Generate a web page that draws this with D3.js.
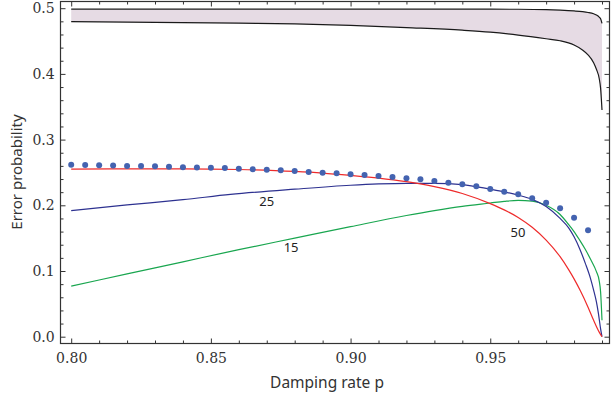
<!DOCTYPE html>
<html>
<head>
<meta charset="utf-8">
<script src="https://cdn.jsdelivr.net/npm/d3@7"></script>
<style>
  body { margin: 0; background: #fff; }
  svg { display: block; }
</style>
</head>
<body>
<svg id="chart" width="611" height="407"></svg>
<script>
// datos
const bandP     = [0.80, 0.83, 0.86, 0.88, 0.90, 0.92, 0.94, 0.95, 0.96, 0.97, 0.975, 0.98, 0.983, 0.985, 0.987, 0.988, 0.989, 0.9895, 0.99];
const bandUpper = [0.4985, 0.4985, 0.4985, 0.4985, 0.4985, 0.4985, 0.4985, 0.4985, 0.4984, 0.4978, 0.497, 0.4958, 0.4947, 0.4935, 0.4915, 0.4896, 0.4865, 0.484, 0.477];
const bandLower = [0.4795, 0.4785, 0.4772, 0.476, 0.474, 0.4705, 0.4665, 0.4635, 0.459, 0.4535, 0.4505, 0.444, 0.4365, 0.429, 0.417, 0.407, 0.393, 0.378, 0.345];

const redP   = [0.80, 0.82, 0.84, 0.86, 0.88, 0.89, 0.90, 0.91, 0.92, 0.93, 0.94, 0.95, 0.955, 0.96, 0.965, 0.97, 0.975, 0.978, 0.98, 0.9823, 0.985, 0.987, 0.989, 0.99];
const redVal = [0.255, 0.2555, 0.2555, 0.2545, 0.2515, 0.249, 0.2455, 0.2415, 0.236, 0.2285, 0.218, 0.2025, 0.193, 0.1815, 0.1665, 0.147, 0.1218, 0.1025, 0.088, 0.0695, 0.045, 0.025, 0.007, 0.0];

const blueP   = [0.80, 0.82, 0.84, 0.857, 0.88, 0.90, 0.91, 0.92, 0.93, 0.94, 0.95, 0.955, 0.96, 0.965, 0.97, 0.975, 0.978, 0.98, 0.982, 0.984, 0.986, 0.987, 0.988, 0.9887, 0.9895, 0.99];
const blueVal = [0.192, 0.2005, 0.2085, 0.2165, 0.2245, 0.2305, 0.2325, 0.2335, 0.2335, 0.2315, 0.2245, 0.2205, 0.2155, 0.209, 0.198, 0.18, 0.166, 0.152, 0.134, 0.112, 0.087, 0.071, 0.053, 0.036, 0.012, 0.0];

const greenP   = [0.80, 0.82, 0.84, 0.86, 0.88, 0.90, 0.92, 0.93, 0.94, 0.95, 0.955, 0.96, 0.965, 0.97, 0.975, 0.978, 0.98, 0.982, 0.984, 0.986, 0.988, 0.989, 0.9895, 0.99];
const greenVal = [0.077, 0.0955, 0.114, 0.1325, 0.150, 0.1675, 0.1845, 0.192, 0.1985, 0.2035, 0.206, 0.2075, 0.2065, 0.2, 0.186, 0.171, 0.16, 0.147, 0.133, 0.117, 0.099, 0.085, 0.068, 0.025];

const dotP   = d3.range(38).map(i => +(0.80 + i * 0.005).toFixed(3));
const dotVal = [0.2618, 0.2613, 0.261, 0.2605, 0.260, 0.2597, 0.2593, 0.2588, 0.258, 0.2577,
                0.2573, 0.2567, 0.2557, 0.2547, 0.2542, 0.2532, 0.2522, 0.2507, 0.2496, 0.2486,
                0.2471, 0.246, 0.2445, 0.243, 0.241, 0.2396, 0.237, 0.2344, 0.232, 0.229,
                0.2248, 0.2207, 0.2167, 0.2107, 0.204, 0.1954, 0.181, 0.162];

const curveLabels = ["25", "50", "15"];
const labelP      = [0.870, 0.9599, 0.8787];
const labelVal    = [0.2035, 0.1576, 0.1347];

const xMajor = [0.80, 0.85, 0.90, 0.95];
const yMajor = [0.0, 0.1, 0.2, 0.3, 0.4, 0.5];

/////////////////////////////////////////////////// ESCALAS

const svg = d3.select("#chart");
const x = d3.scaleLinear().domain([0.80, 0.99]).range([71.2, 602]);
const y = d3.scaleLinear().domain([0, 0.5]).range([336.7, 8.2]);

const frameL = 60.5, frameR = 609.5, frameT = 1.5, frameB = 343.5;

/////////////////////////////////////////////////// CURVAS

const area = d3.area()
  .x((d, i) => x(bandP[i]))
  .y0((d, i) => y(bandLower[i]))
  .y1((d, i) => y(bandUpper[i]))
  .curve(d3.curveMonotoneX);

svg.append("path")
  .attr("d", area(bandP))
  .attr("fill", "#e6dbe4");

function drawLine(ps, vals, color, w) {
  const line = d3.line()
    .x(i => x(ps[i]))
    .y(i => y(vals[i]))
    .curve(d3.curveMonotoneX);
  svg.append("path")
    .attr("d", line(d3.range(ps.length)))
    .attr("fill", "none")
    .attr("stroke", color)
    .attr("stroke-width", w);
}

drawLine(bandP, bandUpper, "#1a1a1a", 1.2);
drawLine(bandP, bandLower, "#1a1a1a", 1.2);
drawLine(greenP, greenVal, "#19a64f", 1.2);
drawLine(blueP, blueVal, "#2d3190", 1.2);
drawLine(redP, redVal, "#ee2b2b", 1.2);

svg.selectAll("circle.dot")
  .data(dotP)
  .enter().append("circle")
  .attr("class", "dot")
  .attr("cx", d => x(d))
  .attr("cy", (d, i) => y(dotVal[i]))
  .attr("r", 3)
  .attr("fill", "#4463b0");

svg.selectAll("text.clabel")
  .data(curveLabels)
  .enter().append("text")
  .attr("class", "clabel")
  .attr("x", (d, i) => x(labelP[i]))
  .attr("y", (d, i) => y(labelVal[i]))
  .attr("text-anchor", "middle")
  .attr("dominant-baseline", "middle")
  .attr("font-family", "'Noto Sans', sans-serif")
  .attr("font-size", 13)
  .attr("fill", "#222")
  .text(d => d);

/////////////////////////////////////////////////// MARCO Y EJES

svg.append("rect")
  .attr("x", frameL).attr("y", frameT)
  .attr("width", frameR - frameL).attr("height", frameB - frameT)
  .attr("fill", "none")
  .attr("stroke", "#333")
  .attr("stroke-width", 1.2);

const xMinor = d3.range(20).map(i => +(0.80 + i * 0.01).toFixed(2)).filter(v => !xMajor.includes(v));
const yMinor = d3.range(26).map(i => +(i * 0.02).toFixed(2)).filter(v => !yMajor.some(m => Math.abs(m - v) < 1e-9));

function ticks(axisFn, scale, pos, vals, size, labels) {
  const g = svg.append("g")
    .attr("transform", pos)
    .call(axisFn(scale).tickValues(vals).tickSize(-size).tickSizeOuter(0)
      .tickFormat(labels ? labels : ""));
  g.select(".domain").remove();
  g.selectAll("line").attr("stroke", "#333").attr("stroke-width", 1);
  g.selectAll("text")
    .attr("font-family", "'DejaVu Serif', serif")
    .attr("font-size", 14)
    .attr("fill", "#333");
  return g;
}

ticks(d3.axisBottom, x, `translate(0,${frameB})`, xMajor, 5, d3.format(".2f"))
  .selectAll("text").attr("dy", "1.15em");
ticks(d3.axisBottom, x, `translate(0,${frameB})`, xMinor, 3, null);
ticks(d3.axisTop, x, `translate(0,${frameT})`, xMajor, 5, null);
ticks(d3.axisTop, x, `translate(0,${frameT})`, xMinor, 3, null);

ticks(d3.axisLeft, y, `translate(${frameL},0)`, yMajor, 5, d3.format(".1f"))
  .selectAll("text").attr("dx", "-0.2em");
ticks(d3.axisLeft, y, `translate(${frameL},0)`, yMinor, 3, null);
ticks(d3.axisRight, y, `translate(${frameR},0)`, yMajor, 5, null);
ticks(d3.axisRight, y, `translate(${frameR},0)`, yMinor, 3, null);

svg.append("text")
  .attr("x", 327).attr("y", 388)
  .attr("text-anchor", "middle")
  .attr("font-family", "'Noto Sans', sans-serif")
  .attr("font-size", 15.5)
  .attr("fill", "#333")
  .text("Damping rate p");

svg.append("text")
  .attr("transform", "translate(22,172) rotate(-90)")
  .attr("text-anchor", "middle")
  .attr("font-family", "'Noto Sans', sans-serif")
  .attr("font-size", 15)
  .attr("fill", "#333")
  .text("Error probability");
</script>
</body>
</html>
